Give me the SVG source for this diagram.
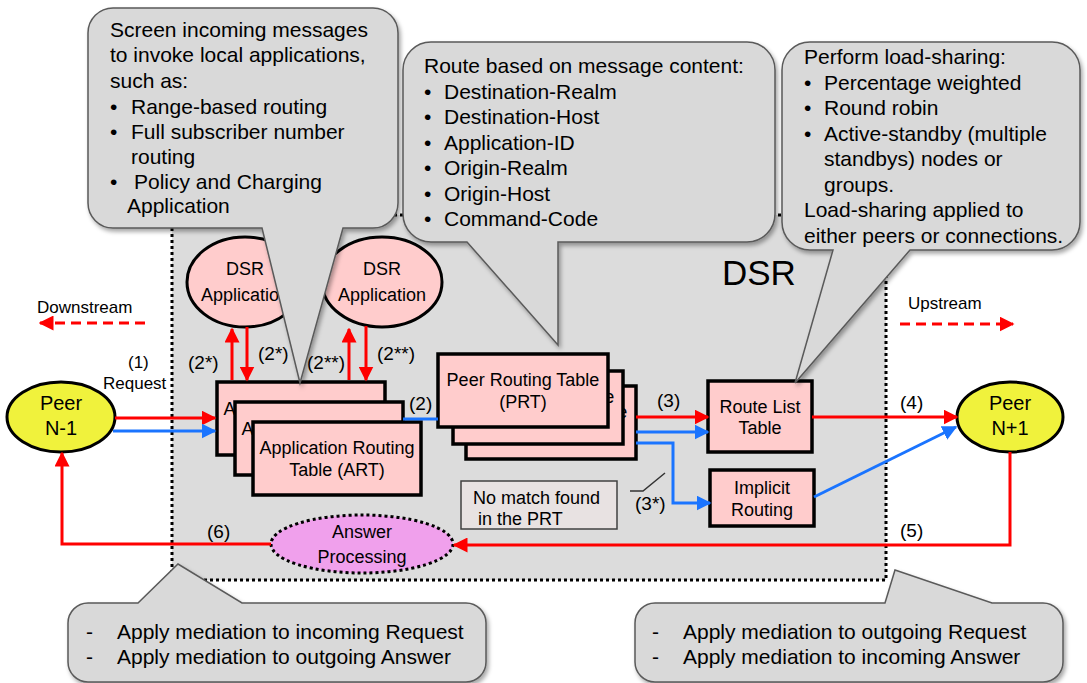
<svg xmlns="http://www.w3.org/2000/svg" width="1087" height="683" viewBox="0 0 1087 683">
<style>
text{font-family:"Liberation Sans",Arial,sans-serif;fill:#000}
.ct{font-size:21px}
.nl{font-size:18px;text-anchor:middle}
.lb{font-size:19px}
.sm{font-size:17px}
.call{fill:#d9d9d9;stroke:#5a5a5a;stroke-width:1.5;filter:url(#sh)}
.tbl{fill:#ffcccc;stroke:#000;stroke-width:3.5}
.app{fill:#ffcccc;stroke:#000;stroke-width:3}
.peer{fill:#f0f23c;stroke:#000;stroke-width:3}
.red{fill:none;stroke:#ff0000;stroke-width:3}
.blue{fill:none;stroke:#1a74ff;stroke-width:3}
</style>
<defs>
<filter id="sh" x="-10%" y="-10%" width="130%" height="130%">
<feDropShadow dx="2" dy="3" stdDeviation="2" flood-color="#000" flood-opacity="0.35"/>
</filter>
<marker id="ar" viewBox="0 0 10 10" refX="9" refY="5" markerWidth="15" markerHeight="15" markerUnits="userSpaceOnUse" orient="auto"><path d="M0,0 L10,5 L0,10 z" fill="#ff0000"/></marker>
<marker id="ab" viewBox="0 0 10 10" refX="9" refY="5" markerWidth="15" markerHeight="15" markerUnits="userSpaceOnUse" orient="auto"><path d="M0,0 L10,5 L0,10 z" fill="#1a74ff"/></marker>
</defs>

<g id="dsr-box">
<rect x="172" y="215" width="714" height="365" fill="#dcdcdc" stroke="#000" stroke-width="3" stroke-dasharray="3 3"/>
<text x="722" y="285" style="font-size:35px">DSR</text>
</g>

<g id="legend-downstream">
<text x="37" y="313" class="sm">Downstream</text>
<path d="M145,323 H40" class="red" stroke-dasharray="10 6" marker-end="url(#ar)"/>
</g>
<g id="legend-upstream">
<text x="908" y="309" class="sm">Upstream</text>
<path d="M900,324 H1013" class="red" stroke-dasharray="10 6" marker-end="url(#ar)"/>
</g>

<g id="peer-n-1">
<ellipse cx="61" cy="417" rx="54" ry="35" class="peer"/>
<text x="61" y="410" class="nl" style="font-size:20px">Peer</text>
<text x="61" y="435" class="nl" style="font-size:20px">N-1</text>
</g>
<g id="peer-n1">
<ellipse cx="1010" cy="417" rx="53" ry="35" class="peer"/>
<text x="1010" y="410" class="nl" style="font-size:20px">Peer</text>
<text x="1010" y="435" class="nl" style="font-size:20px">N+1</text>
</g>

<g id="dsr-app-1">
<ellipse cx="245" cy="282" rx="58" ry="45" class="app"/>
<text x="245" y="275" class="nl">DSR</text>
<text x="245" y="301" class="nl">Application</text>
</g>
<g id="dsr-app-2">
<ellipse cx="382" cy="282" rx="60" ry="45" class="app"/>
<text x="382" y="275" class="nl">DSR</text>
<text x="382" y="301" class="nl">Application</text>
</g>

<g id="art">
<rect x="217" y="382" width="168" height="73" class="tbl"/>
<text x="301" y="415" class="nl">Application Routing</text>
<rect x="235" y="402" width="168" height="73" class="tbl"/>
<text x="319" y="435" class="nl">Application Routing</text>
<rect x="253" y="422" width="168" height="73" class="tbl"/>
<text x="337" y="454" class="nl">Application Routing</text>
<text x="337" y="476" class="nl">Table (ART)</text>
</g>

<g id="prt">
<rect x="466" y="386" width="170" height="73" class="tbl"/>
<text x="551" y="418" class="nl">Peer Routing Table</text>
<rect x="453" y="371" width="170" height="73" class="tbl"/>
<text x="538" y="403" class="nl">Peer Routing Table</text>
<rect x="438" y="354" width="170" height="73" class="tbl"/>
<text x="523" y="386" class="nl">Peer Routing Table</text>
<text x="523" y="408" class="nl">(PRT)</text>
</g>

<g id="route-list-table">
<rect x="708" y="381" width="104" height="71" class="tbl"/>
<text x="760" y="413" class="nl">Route List</text>
<text x="760" y="434" class="nl">Table</text>
</g>

<g id="implicit-routing">
<rect x="710" y="470" width="104" height="56" class="tbl"/>
<text x="762" y="494" class="nl">Implicit</text>
<text x="762" y="516" class="nl">Routing</text>
</g>

<g id="no-match-note">
<rect x="461" y="481" width="156" height="48" fill="#e8e2e2" stroke="#404040" stroke-width="1.5"/>
<text x="473" y="504" style="font-size:18px">No match found</text>
<text x="478" y="525" style="font-size:18px">in the PRT</text>
<path d="M630,491 H643 L665,473" fill="none" stroke="#333" stroke-width="1.5"/>
</g>

<g id="answer-processing">
<ellipse cx="362" cy="544" rx="91" ry="29" fill="#f0a0ec" stroke="#000" stroke-width="3" stroke-dasharray="3 3"/>
<text x="362" y="538" class="nl">Answer</text>
<text x="362" y="563" class="nl">Processing</text>
</g>

<g id="connectors">
<path d="M115,418 H215" class="red" marker-end="url(#ar)"/>
<path d="M113,431 H215" class="blue" marker-end="url(#ab)"/>
<path d="M232,380 V329" class="red" marker-end="url(#ar)"/>
<path d="M247,327 V380" class="red" marker-end="url(#ar)"/>
<path d="M349,380 V329" class="red" marker-end="url(#ar)"/>
<path d="M366,326 V380" class="red" marker-end="url(#ar)"/>
<path d="M403,419 H438" class="blue"/>
<path d="M636,417 H708" class="red" marker-end="url(#ar)"/>
<path d="M636,432 H708" class="blue" marker-end="url(#ab)"/>
<path d="M636,443 H673 V503 H710" class="blue" marker-end="url(#ab)"/>
<path d="M812,417 H957" class="red" marker-end="url(#ar)"/>
<path d="M814,497 L956,427" class="blue" marker-end="url(#ab)"/>
<path d="M1010,452 V545 H454" class="red" marker-end="url(#ar)"/>
<path d="M271,544 H62 V453" class="red" marker-end="url(#ar)"/>
<text x="128" y="368" class="sm">(1)</text>
<text x="103" y="389" class="sm">Request</text>
<text x="188" y="369" class="lb">(2*)</text>
<text x="258" y="360" class="lb">(2*)</text>
<text x="307" y="369" class="lb">(2**)</text>
<text x="377" y="360" class="lb">(2**)</text>
<text x="409" y="410" class="lb">(2)</text>
<text x="657" y="407" class="lb">(3)</text>
<text x="635" y="510" class="lb">(3*)</text>
<text x="900" y="409" class="lb">(4)</text>
<text x="900" y="537" class="lb">(5)</text>
<text x="207" y="538" class="lb">(6)</text>
</g>

<g id="callout-screen">
<path class="call" d="M113,8 H373 A25,25 0 0 1 398,33 V203 A25,25 0 0 1 373,228 H343 L300,383 L262,228 H113 A25,25 0 0 1 88,203 V33 A25,25 0 0 1 113,8 Z"/>
<text class="ct" x="110" y="37">Screen incoming messages</text>
<text class="ct" x="110" y="62">to invoke local applications,</text>
<text class="ct" x="110" y="88">such as:</text>
<text class="ct" x="110" y="114">•</text><text class="ct" x="131" y="114">Range-based routing</text>
<text class="ct" x="110" y="139">•</text><text class="ct" x="131" y="139">Full subscriber number</text>
<text class="ct" x="131" y="164">routing</text>
<text class="ct" x="110" y="189">•</text><text class="ct" x="134" y="189">Policy and Charging</text>
<text class="ct" x="127" y="213">Application</text>
</g>

<g id="callout-route">
<path class="call" d="M431,42 H747 A28,28 0 0 1 775,70 V214 A28,28 0 0 1 747,242 H558 V345 L467,242 H431 A28,28 0 0 1 403,214 V70 A28,28 0 0 1 431,42 Z"/>
<text class="ct" x="424" y="73">Route based on message content:</text>
<text class="ct" x="424" y="99">•</text><text class="ct" x="444" y="99">Destination-Realm</text>
<text class="ct" x="424" y="124">•</text><text class="ct" x="444" y="124">Destination-Host</text>
<text class="ct" x="424" y="150">•</text><text class="ct" x="444" y="150">Application-ID</text>
<text class="ct" x="424" y="175">•</text><text class="ct" x="444" y="175">Origin-Realm</text>
<text class="ct" x="424" y="201">•</text><text class="ct" x="444" y="201">Origin-Host</text>
<text class="ct" x="424" y="226">•</text><text class="ct" x="444" y="226">Command-Code</text>
</g>

<g id="callout-loadsharing">
<path class="call" d="M810,42 H1052 A28,28 0 0 1 1080,70 V222 A28,28 0 0 1 1052,250 H910 L795,383 L833,250 H810 A28,28 0 0 1 782,222 V70 A28,28 0 0 1 810,42 Z"/>
<text class="ct" x="804" y="64">Perform load-sharing:</text>
<text class="ct" x="804" y="90">•</text><text class="ct" x="824" y="90">Percentage weighted</text>
<text class="ct" x="804" y="115">•</text><text class="ct" x="824" y="115">Round robin</text>
<text class="ct" x="804" y="141">•</text><text class="ct" x="824" y="141">Active-standby (multiple</text>
<text class="ct" x="824" y="166">standbys) nodes or</text>
<text class="ct" x="824" y="192">groups.</text>
<text class="ct" x="804" y="217">Load-sharing applied to</text>
<text class="ct" x="804" y="243">either peers or connections.</text>
</g>

<g id="callout-mediation-in">
<path class="call" d="M88,603 H138 L178,564 L242,603 H466 A20,20 0 0 1 486,623 V662 A20,20 0 0 1 466,682 H88 A20,20 0 0 1 68,662 V623 A20,20 0 0 1 88,603 Z"/>
<text class="ct" x="86" y="639">-</text><text class="ct" x="117" y="639">Apply mediation to incoming Request</text>
<text class="ct" x="86" y="664">-</text><text class="ct" x="117" y="664">Apply mediation to outgoing Answer</text>
</g>

<g id="callout-mediation-out">
<path class="call" d="M655,603 H885 L895,570 L992,603 H1043 A20,20 0 0 1 1063,623 V662 A20,20 0 0 1 1043,682 H655 A20,20 0 0 1 635,662 V623 A20,20 0 0 1 655,603 Z"/>
<text class="ct" x="652" y="639">-</text><text class="ct" x="683" y="639">Apply mediation to outgoing Request</text>
<text class="ct" x="652" y="664">-</text><text class="ct" x="683" y="664">Apply mediation to incoming Answer</text>
</g>
</svg>
